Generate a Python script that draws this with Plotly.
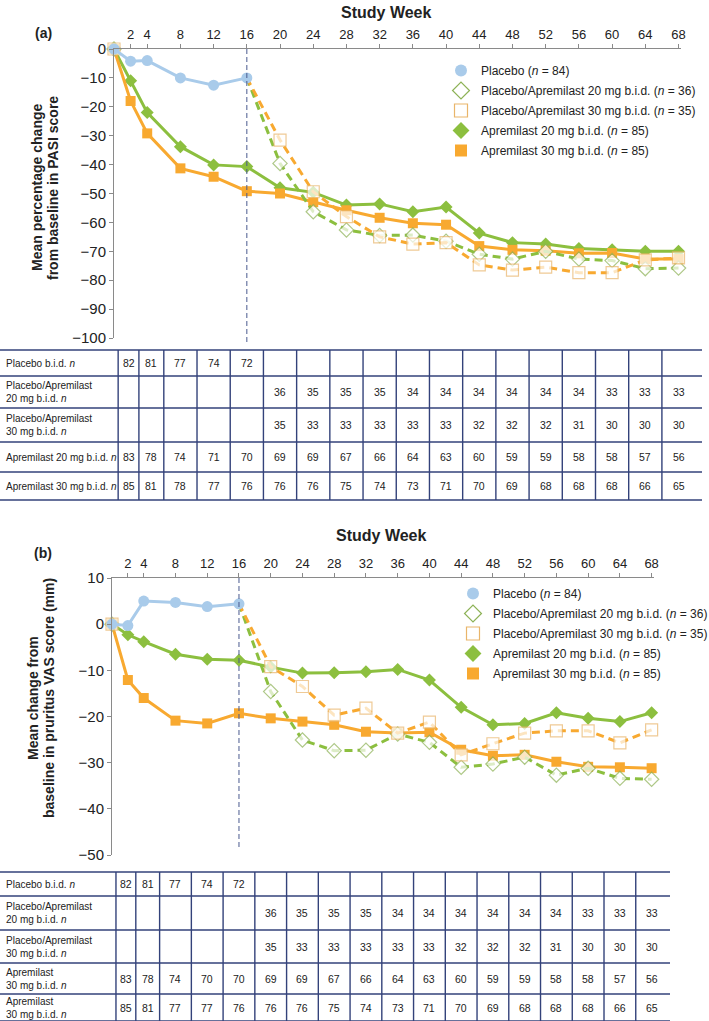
import plotly.graph_objects as go

W, H = 709, 1021
OFF = 0  # body margin removed in the page (see write_html below)
FONT = "Liberation Sans, Arial, sans-serif"
N = None

# ---------------- data ----------------
weeks = [0, 2, 4, 8, 12, 16, 20, 24, 28, 32, 36, 40, 44, 48, 52, 56, 60, 64, 68]
tick_weeks = [2, 4, 8, 12, 16, 20, 24, 28, 32, 36, 40, 44, 48, 52, 56, 60, 64, 68]
switch_week = 16

legend_names = [
    "Placebo (<i>n</i> = 84)",
    "Placebo/Apremilast 20 mg b.i.d. (<i>n</i> = 36)",
    "Placebo/Apremilast 30 mg b.i.d. (<i>n</i> = 35)",
    "Apremilast 20 mg b.i.d. (<i>n</i> = 85)",
    "Apremilast 30 mg b.i.d. (<i>n</i> = 85)",
]

# (a) mean percentage change from baseline in PASI score
pasi_placebo = [0, -4.2, -4.0, -10.0, -12.5, -10.0, N, N, N, N, N, N, N, N, N, N, N, N, N]
pasi_pa20 = [0, N, N, N, N, -10.0, -39.6, -56.3, -62.6, -64.5, -64.4, -66.5, -71.0, -72.7, -70.0, -72.7, -73.2, -76.0, -75.8]
pasi_pa30 = [0, N, N, N, N, -10.0, -31.5, -49.4, -58.0, -65.0, -67.5, -67.0, -74.7, -76.5, -75.5, -77.4, -77.4, -73.0, -72.3]
pasi_a20 = [0, -11.0, -22.0, -33.8, -40.1, -40.7, -48.0, -49.6, -54.0, -53.6, -56.3, -54.7, -63.7, -67.0, -67.5, -69.0, -69.5, -70.0, -70.0]
pasi_a30 = [0, -18.0, -29.2, -41.3, -44.2, -49.2, -50.0, -53.0, -55.8, -58.4, -60.3, -60.8, -68.2, -69.5, -69.8, -70.7, -70.6, -72.7, -72.7]

# (b) mean change from baseline in pruritus VAS score (mm)
vas_placebo = [0, -0.3, 5.0, 4.7, 3.8, 4.4, N, N, N, N, N, N, N, N, N, N, N, N, N]
vas_pa20 = [0, N, N, N, N, 4.4, -14.6, -25.1, -27.4, -27.3, -23.8, -25.6, -31.0, -30.3, -28.8, -32.7, -31.2, -33.4, -33.6]
vas_pa30 = [0, N, N, N, N, 4.4, -9.2, -13.5, -19.7, -18.2, -23.6, -21.2, -28.3, -25.9, -23.6, -23.1, -23.1, -25.7, -22.9]
vas_a20 = [0, -2.3, -3.8, -6.5, -7.6, -7.8, -9.3, -10.6, -10.5, -10.3, -9.8, -12.1, -18.0, -21.8, -21.5, -19.2, -20.4, -21.1, -19.2]
vas_a30 = [0, -12.1, -16.0, -20.9, -21.5, -19.3, -20.4, -21.1, -21.8, -23.3, -23.6, -23.4, -27.2, -28.5, -28.3, -29.8, -30.9, -31.0, -31.2]

# number of patients tables (weeks 2..68)
table_a_labels = [
    "Placebo b.i.d. <i>n</i>",
    "Placebo/Apremilast<br>20 mg b.i.d. <i>n</i>",
    "Placebo/Apremilast<br>30 mg b.i.d. <i>n</i>",
    "Apremilast 20 mg b.i.d. <i>n</i>",
    "Apremilast 30 mg b.i.d. <i>n</i>",
]
table_a_rows = [
    [82, 81, 77, 74, 72, N, N, N, N, N, N, N, N, N, N, N, N, N],
    [N, N, N, N, N, 36, 35, 35, 35, 34, 34, 34, 34, 34, 34, 33, 33, 33],
    [N, N, N, N, N, 35, 33, 33, 33, 33, 33, 32, 32, 32, 31, 30, 30, 30],
    [83, 78, 74, 71, 70, 69, 69, 67, 66, 64, 63, 60, 59, 59, 58, 58, 57, 56],
    [85, 81, 78, 77, 76, 76, 76, 75, 74, 73, 71, 70, 69, 68, 68, 68, 66, 65],
]
table_b_labels = [
    "Placebo b.i.d. <i>n</i>",
    "Placebo/Apremilast<br>20 mg b.i.d. <i>n</i>",
    "Placebo/Apremilast<br>30 mg b.i.d. <i>n</i>",
    "Apremilast<br>30 mg b.i.d. <i>n</i>",
    "Apremilast<br>30 mg b.i.d. <i>n</i>",
]
table_b_rows = [
    [82, 81, 77, 74, 72, N, N, N, N, N, N, N, N, N, N, N, N, N],
    [N, N, N, N, N, 36, 35, 35, 35, 34, 34, 34, 34, 34, 34, 33, 33, 33],
    [N, N, N, N, N, 35, 33, 33, 33, 33, 33, 32, 32, 32, 31, 30, 30, 30],
    [83, 78, 74, 70, 70, 69, 69, 67, 66, 64, 63, 60, 59, 59, 58, 58, 57, 56],
    [85, 81, 77, 77, 76, 76, 76, 75, 74, 73, 71, 70, 69, 68, 68, 68, 66, 65],
]

# ---------------- styles / layout constants ----------------
C_PLA = "#A9CBEA"
C_GREEN = "#8CBF3F"
C_ORANGE = "#F8A930"
C_GREEN_EDGE = "#8DB256"
C_ORANGE_EDGE = "#E9B56A"
C_NAVY = "#33427A"
C_AXIS = "#8A8A8A"
C_TEXT = "#222222"

XR = [0, 68.3]


def px(x):
    # window pixel -> paper fraction
    return (x - OFF) / W


def py(y):
    return 1 - (y - OFF) / H


PANELS = {
    "a": dict(x0=114, x1=681, y_top=49, y_bot=338, yrange=[-100, 0], dtick=10, dash_end=342,
              table=[350, 376, 408, 442, 472, 500], table_right=702,
              labels=table_a_labels, rows=table_a_rows,
              title_xy=(386, 12), lbl_xy=(43, 33), legend_xy=(441, 56)),
    "b": dict(x0=112, x1=654, y_top=578, y_bot=855, yrange=[-50, 10], dtick=10, dash_end=850,
              table=[872, 896, 930, 963, 994, 1021], table_right=670,
              labels=table_b_labels, rows=table_b_rows,
              title_xy=(381, 535), lbl_xy=(43, 553), legend_xy=(453, 579)),
}

col_edge_weeks = [0.5, 3, 6, 10, 14, 18, 22, 26, 30, 34, 38, 42, 46, 50, 54, 58, 62, 66, 70]


def week_px(p, w):
    return p["x0"] + (w - XR[0]) * (p["x1"] - p["x0"]) / (XR[1] - XR[0])


fig = go.Figure()

series_style = [
    dict(symbol="circle", size=11, color=C_PLA, edge=C_PLA, lcolor=C_PLA, dash="solid"),
    dict(symbol="diamond", size=11, color="white", edge=C_GREEN_EDGE, lcolor=C_GREEN, dash="8px,5px"),
    dict(symbol="square", size=12, color="white", edge=C_ORANGE_EDGE, lcolor=C_ORANGE, dash="8px,5px"),
    dict(symbol="diamond", size=10, color=C_GREEN, edge=C_GREEN, lcolor=C_GREEN, dash="solid"),
    dict(symbol="square", size=10, color=C_ORANGE, edge=C_ORANGE, lcolor=C_ORANGE, dash="solid"),
]

panel_series = {
    "a": [pasi_placebo, pasi_pa20, pasi_pa30, pasi_a20, pasi_a30],
    "b": [vas_placebo, vas_pa20, vas_pa30, vas_a20, vas_a30],
}
axis_ids = {"a": ("x", "y"), "b": ("x2", "y2")}
draw_order = [3, 4, 1, 2, 0]

for key in ["a", "b"]:
    xa, ya = axis_ids[key]
    vals = panel_series[key]
    for i in draw_order:
        st = series_style[i]
        if i in (1, 2):
            sizes = [0 if w == switch_week else st["size"] for w in weeks]
        else:
            sizes = st["size"]
        fig.add_trace(go.Scatter(
            x=weeks, y=vals[i], mode="lines+markers", xaxis=xa, yaxis=ya,
            line=dict(color=st["lcolor"], width=3, dash=st["dash"]),
            marker=dict(symbol=st["symbol"], size=sizes, color=st["color"],
                        line=dict(color=st["edge"], width=1.2 if i in (1, 2) else 0)),
            cliponaxis=False, showlegend=False, hoverinfo="skip"))
    # legend-only traces
    leg = "legend" if key == "a" else "legend2"
    for i, name in enumerate(legend_names):
        st = series_style[i]
        lsize = {0: 12, 1: 13, 2: 13, 3: 13, 4: 12}[i]
        fig.add_trace(go.Scatter(
            x=[None], y=[None], mode="markers", xaxis=xa, yaxis=ya, name=name, legend=leg,
            legendgroup="%s%d" % (key, i),
            marker=dict(symbol=st["symbol"], size=lsize, color=st["color"],
                        line=dict(color=st["edge"], width=1.2 if i in (1, 2) else 0))))

shapes = []
annotations = []

for key, lbl in [("a", "(a)"), ("b", "(b)")]:
    p = PANELS[key]
    xa, ya = axis_ids[key]
    # dashed vertical line at week 16
    shapes.append(dict(type="line", xref=xa, yref="paper", x0=switch_week, x1=switch_week,
                       y0=py(p["y_top"]), y1=py(p["dash_end"]),
                       line=dict(color="#4A5A8E", width=1, dash="5px,3px")))
    # table
    edges = p["table"]
    right = p["table_right"]
    for j, yy in enumerate(edges):
        shapes.append(dict(type="line", xref="paper", yref="paper", x0=px(0), x1=px(right),
                           y0=py(yy), y1=py(yy), line=dict(color=C_NAVY, width=1.4)))
    col_px = [week_px(p, w) for w in col_edge_weeks]
    for cx in col_px[:-1]:
        shapes.append(dict(type="line", xref="paper", yref="paper", x0=px(cx), x1=px(cx),
                           y0=py(edges[0]), y1=py(edges[-1]), line=dict(color=C_NAVY, width=1.4)))
    for r, (label, row) in enumerate(zip(p["labels"], p["rows"])):
        yc = (edges[r] + edges[r + 1]) / 2
        annotations.append(dict(text=label, xref="paper", yref="paper", x=px(4), y=py(yc),
                                xanchor="left", yanchor="middle", align="left", showarrow=False,
                                font=dict(size=10, color=C_TEXT, family=FONT)))
        for c, v in enumerate(row):
            if v is None:
                continue
            xc = (col_px[c] + col_px[c + 1]) / 2
            annotations.append(dict(text=str(v), xref="paper", yref="paper", x=px(xc), y=py(yc),
                                    xanchor="center", yanchor="middle", showarrow=False,
                                    font=dict(size=10.5, color=C_TEXT, family=FONT)))
    # panel label
    lx, ly = p["lbl_xy"]
    annotations.append(dict(text="<b>%s</b>" % lbl, xref="paper", yref="paper",
                            x=px(lx), y=py(ly), xanchor="center", yanchor="middle",
                            showarrow=False, font=dict(size=14, color=C_TEXT, family=FONT)))
    # "Study Week"
    tx, ty = p["title_xy"]
    annotations.append(dict(text="<b>Study Week</b>", xref="paper", yref="paper",
                            x=px(tx), y=py(ty), xanchor="center", yanchor="middle",
                            showarrow=False, font=dict(size=16, color=C_TEXT, family=FONT)))

# y-axis titles (two lines each)
ytitles = [
    ("Mean percentage change", 37, 188), ("from baseline in PASI score", 53, 188),
    ("Mean change from", 33, 698), ("baseline in pruritus VAS score (mm)", 49, 698),
]
for txt, xx, yy in ytitles:
    annotations.append(dict(text="<b>%s</b>" % txt, xref="paper", yref="paper", x=px(xx), y=py(yy),
                            xanchor="center", yanchor="middle", textangle=-90, showarrow=False,
                            font=dict(size=14, color=C_TEXT, family=FONT)))


def xaxis_cfg(p, anchor):
    return dict(domain=[px(p["x0"]), px(p["x1"])], range=XR, side="top", anchor=anchor,
                tickvals=tick_weeks, ticks="outside", ticklen=4, tickcolor=C_AXIS,
                showline=True, linecolor=C_AXIS, linewidth=1, showgrid=False, zeroline=False,
                tickfont=dict(size=13, color=C_TEXT, family=FONT), fixedrange=True,
                automargin=False)


def yaxis_cfg(p, anchor):
    lo, hi = p["yrange"]
    return dict(domain=[py(p["y_bot"]), py(p["y_top"])], range=[lo, hi], anchor=anchor,
                tickvals=list(range(lo, hi + 1, p["dtick"])), ticks="outside", ticklen=4,
                tickcolor=C_AXIS, showline=True, linecolor=C_AXIS, linewidth=1,
                showgrid=False, zeroline=False,
                tickfont=dict(size=15, color=C_TEXT, family=FONT), fixedrange=True,
                automargin=False)


legend_common = dict(xanchor="left", yanchor="top", bgcolor="rgba(0,0,0,0)",
                     font=dict(size=12, color=C_TEXT, family=FONT), tracegroupgap=1,
                     itemclick=False, itemdoubleclick=False)

fig.update_layout(
    width=W, height=H, margin=dict(l=0, r=0, t=0, b=0, pad=0, autoexpand=False),
    paper_bgcolor="white", plot_bgcolor="white",
    font=dict(family=FONT, color=C_TEXT),
    xaxis=xaxis_cfg(PANELS["a"], "y"), yaxis=yaxis_cfg(PANELS["a"], "x"),
    xaxis2=xaxis_cfg(PANELS["b"], "y2"), yaxis2=yaxis_cfg(PANELS["b"], "x2"),
    legend=dict(x=px(PANELS["a"]["legend_xy"][0]), y=py(PANELS["a"]["legend_xy"][1]), **legend_common),
    legend2=dict(x=px(PANELS["b"]["legend_xy"][0]), y=py(PANELS["b"]["legend_xy"][1]), **legend_common),
    shapes=shapes, annotations=annotations,
)

fig.write_html("out.html", config={"displayModeBar": False},
               post_script="document.body.style.margin='0px';")
